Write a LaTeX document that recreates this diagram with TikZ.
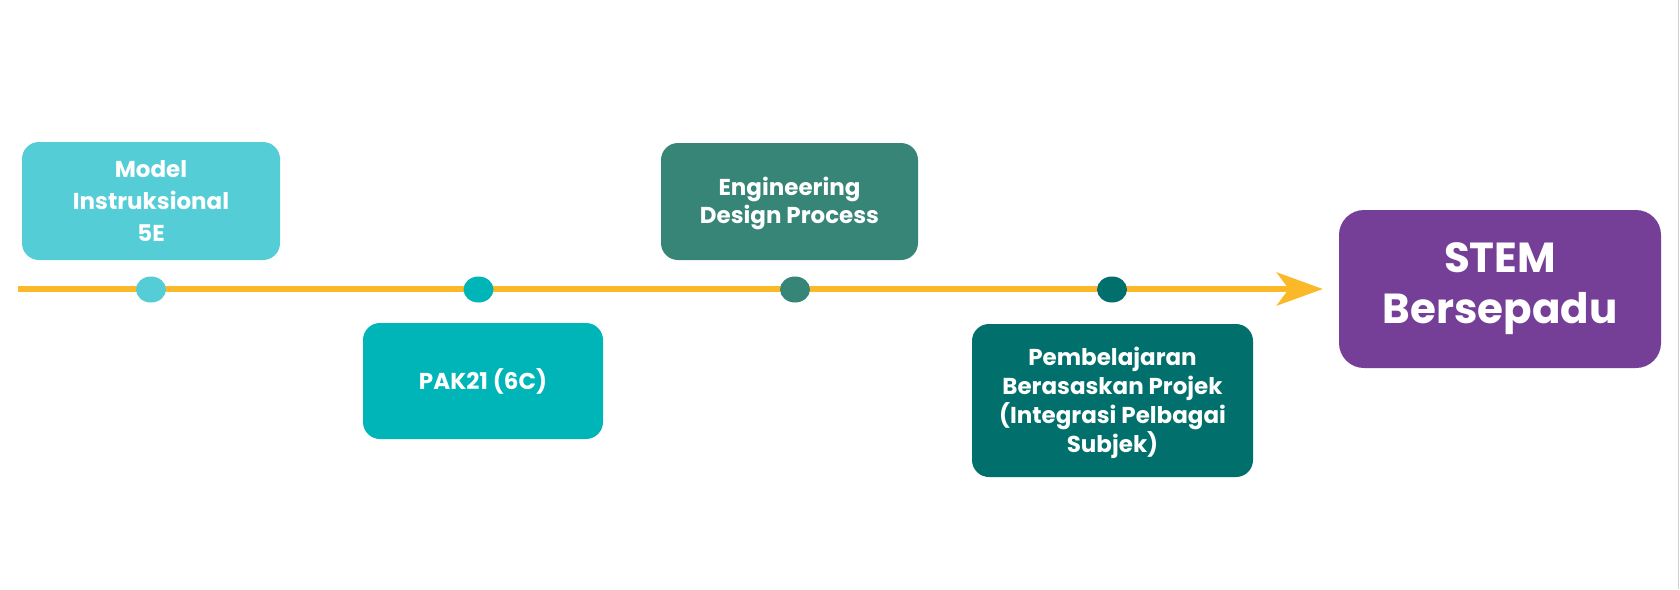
\documentclass[tikz,border=0pt]{standalone}
\usepackage{fontspec}
\setmainfont{Poppins}
\usetikzlibrary{arrows.meta,shapes.geometric}
\definecolor{cA}{HTML}{55CDD7}
\definecolor{cB}{HTML}{00B5B8}
\definecolor{cC}{HTML}{368577}
\definecolor{cD}{HTML}{016F6B}
\definecolor{cP}{HTML}{763F97}
\definecolor{cY}{HTML}{FBB929}
\definecolor{cG}{HTML}{D0D0D0}
\begin{document}
\begin{tikzpicture}[x=1pt,y=-1pt,
  box/.style={rounded corners=17pt, inner sep=0pt, align=center, text=white,
    font=\bfseries\fontsize{23}{32}\selectfont},
  dotmark/.style={ellipse, inner sep=0pt, minimum width=30pt, minimum height=26pt},
  timeline/.style={draw=cY, line width=6pt, -{Stealth[length=46pt,width=33pt,inset=12pt]}, shorten >=16pt}]
\useasboundingbox (0,0) rectangle (1680,589);
\fill[white] (0,0) rectangle (1680,589);
\draw[cG, line width=1.5pt] (1678.5,0) -- (1678.5,589);

\node[box, fill=cA, minimum width=258pt, minimum height=118pt] (b1) at (151,201)
  {Model\\Instruksional\\5E};
\node[box, fill=cB, minimum width=240pt, minimum height=116pt] (b2) at (483,381)
  {PAK21 (6C)};
\node[box, fill=cC, minimum width=257pt, minimum height=117pt, font=\bfseries\fontsize{23}{28}\selectfont] (b3) at (789.5,201.5)
  {\rule{0pt}{23pt}Engineering\\Design Process};
\node[box, fill=cD, minimum width=281pt, minimum height=153pt, font=\bfseries\fontsize{23}{29}\selectfont] (b4) at (1112.5,400.5)
  {\rule{0pt}{23pt}Pembelajaran\\Berasaskan Projek\\(Integrasi Pelbagai\\Subjek)};
\node[box, fill=cP, rounded corners=25pt, minimum width=322pt, minimum height=158pt, font=\bfseries\fontsize{42}{51}\selectfont] (stem) at (1500,289)
  {STEM\\Bersepadu};

\coordinate (start) at (18,289);
\draw[timeline] (start) -- (stem);

\node[dotmark, fill=cA] (d1) at (151,289.5) {};
\node[dotmark, fill=cB] (d2) at (478.5,289.5) {};
\node[dotmark, fill=cC] (d3) at (795,289.5) {};
\node[dotmark, fill=cD] (d4) at (1112,289.5) {};
\end{tikzpicture}
\end{document}
